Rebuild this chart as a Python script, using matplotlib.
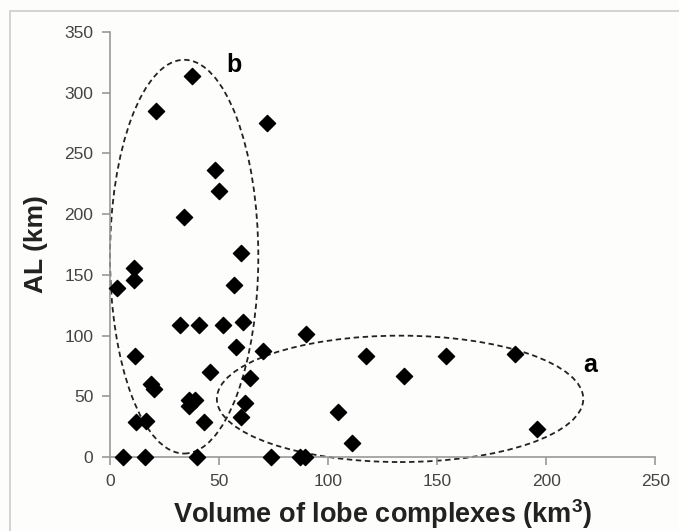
import matplotlib
matplotlib.use("Agg")
import matplotlib.pyplot as plt
from matplotlib.patches import Ellipse, Rectangle

# volume of lobe complexes (km3) and AL (km)
volume = [3, 6, 11, 11, 11.5, 12, 16.5, 16, 19, 20, 21, 32, 34, 37.6, 36, 36,
          39, 40, 41, 43, 46, 48, 50, 52, 57, 58, 60, 60, 61, 62, 64, 70, 72,
          74, 87, 89.5, 90, 104.6, 111, 117.5, 135, 154, 185.5, 196]
al = [139, 0, 156, 146, 83, 29, 30, 0, 60, 56, 285, 108.5, 198, 314, 47, 42,
      47, 0, 108.5, 29, 70, 236, 219, 109, 142, 91, 168, 33, 111, 44.5, 65,
      87, 275, 0, 0, 0, 101, 37, 12, 83, 67, 83, 85, 23]

# groups outlined by dashed ellipses: (label, centre x, centre y, width, height, label x, label y)
groups = [("b", 34, 165, 68, 324, 57, 323),
          ("a", 133, 48, 168, 104, 220, 76)]

plt.rcParams['font.family'] = ['Liberation Sans', 'DejaVu Sans']
plt.rcParams['mathtext.default'] = 'regular'

fig = plt.figure(figsize=(6.79, 5.31), dpi=100, facecolor='#fdfdfb')
fig.patches.append(Rectangle((0.015, -0.01), 1.0, 0.99, transform=fig.transFigure,
                             fill=False, edgecolor='#cccccc', linewidth=1.2))
ax = fig.add_axes([0.162, 0.139, 0.803, 0.801])
ax.set_facecolor('#fdfdfb')

ax.scatter(volume, al, marker='D', s=68, color='black', zorder=3, clip_on=False)

for name, cx, cy, w, h, lx, ly in groups:
    ax.add_patch(Ellipse((cx, cy), w, h, fill=False, edgecolor='#222222',
                         linestyle=(0, (3, 2)), linewidth=1.3, clip_on=False))
    ax.text(lx, ly, name, fontsize=18, fontweight='bold', ha='center', va='center')

ax.set_xlim(0, 250)
ax.set_ylim(0, 350)
ax.set_xticks(range(0, 251, 50))
ax.set_yticks(range(0, 351, 50))
for side in ('top', 'right'):
    ax.spines[side].set_visible(False)
for side in ('left', 'bottom'):
    ax.spines[side].set_color('#999999')
    ax.spines[side].set_linewidth(1.2)
ax.tick_params(direction='out', color='#999999', length=6, width=1.2, pad=6,
               labelsize=12.5, labelcolor='#444444')

ax.set_xlabel('Volume of lobe complexes (km$^{3}$)', fontsize=19.5, fontweight='bold',
              color='#222222', labelpad=6)
ax.set_ylabel('AL (km)', fontsize=19, fontweight='bold', color='#222222', labelpad=12)

fig.savefig('out.png', dpi=100, facecolor=fig.get_facecolor())
